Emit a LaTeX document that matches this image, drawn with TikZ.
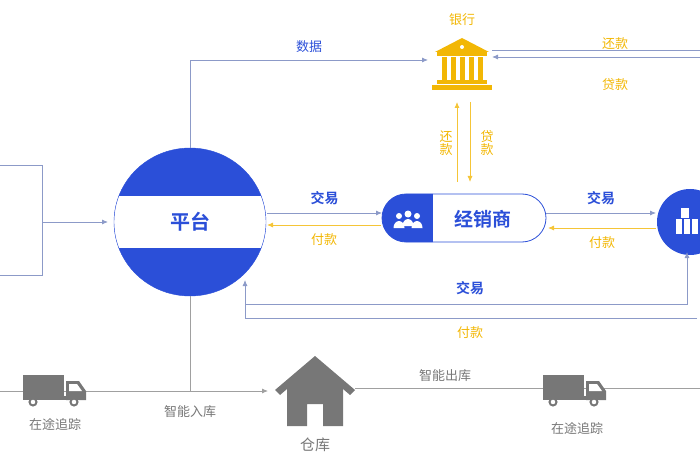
\documentclass[tikz,border=0pt]{standalone}
\usepackage{fontspec}
\setmainfont{Noto Sans CJK SC}[BoldFont={Noto Sans CJK SC Bold}]
\usetikzlibrary{arrows.meta,positioning}
\definecolor{pblue}{HTML}{2B4FD8}
\definecolor{pline}{HTML}{8C9AC8}
\definecolor{pyellow}{HTML}{F2B705}
\definecolor{pgray}{HTML}{777777}
\tikzset{
  flow/.style={pline,line width=0.8pt,-{Latex[length=6pt,width=5pt]}},
  pay/.style={pyellow!80,line width=0.8pt,-{Latex[length=6pt,width=5pt]}},
  ware/.style={pgray!70,line width=0.8pt},
  lblue/.style={text=pblue,font=\bfseries\fontsize{14}{14}\selectfont},
  lyellow/.style={text=pyellow,font=\fontsize{13}{13}\selectfont},
  lgray/.style={text=pgray,font=\fontsize{13}{13}\selectfont},
}
\begin{document}
\begin{tikzpicture}[x=1pt,y=-1pt]
  \useasboundingbox (0,0) rectangle (700,470);

  % platform
  \fill[pblue] (190,222) ellipse (76 and 74);
  \begin{scope}
    \clip (190,222) ellipse (76 and 74);
    \fill[white] (100,196) rectangle (280,248);
  \end{scope}
  \draw[pblue,thin] (190,222) ellipse (76 and 74);
  \node[lblue,font=\bfseries\fontsize{20}{20}\selectfont] (plat) at (190,222) {平台};
  \coordinate (platT) at (190,148);
  \coordinate (platB) at (190,296);

  % left box
  \draw[ware,pline] (0,165) -- (42,165) -- (42,275) -- (0,275);
  \coordinate (boxR) at (42,222);
  \draw[flow] (boxR) -- (108,222);

  % bank
  \begin{scope}[pyellow,shift={(462,62)}]
    \fill (-27,-10) -- (0,-24) -- (27,-10) -- cycle;
    \fill (-25,-10) rectangle (25,-6);
    \foreach \cx in {-18,-9,0,9,18}
      \fill (\cx-2.5,-5) rectangle (\cx+2.5,18);
    \fill (-25,18) rectangle (25,22);
    \fill (-30,23) rectangle (30,28);
    \fill[white] (0,-15) circle (2);
  \end{scope}
  \coordinate (bankL) at (428,60);
  \coordinate (bankR) at (492,57);
  \node[lyellow] (bankT) at (462,20) {银行};

  % data line
  \draw[flow] (platT) |- node[pos=0.75,above=4pt,lblue,font=\fontsize{13}{13}\selectfont]{数据} (bankL);
  \draw[pline,line width=0.8pt] (700,50) -- (492,50);
  \draw[flow] (700,57) -- (bankR);
  \node[lyellow] at (615,44) {还款};
  \node[lyellow] at (615,85) {贷款};

  % dealer
  \begin{scope}
    \clip[rounded corners=24pt] (382,194) rectangle (546,242);
    \fill[pblue] (380,190) rectangle (433,246);
  \end{scope}
  \draw[pblue,line width=0.8pt,rounded corners=24pt] (382,194) rectangle (546,242);
  % people icon
  \begin{scope}[white,shift={(408,220)}]
    \foreach \px/\py/\r in {-9/-4/3, 9/-4/3, 0/-6/3.5} {
      \fill (\px,\py) circle (\r);
      \fill (\px-5.5,\py+12) arc (180:360:5.5 and 7) -- cycle;
    }
  \end{scope}
  \node[lblue,font=\bfseries\fontsize{19}{19}\selectfont] (deal) at (483,219) {经销商};
  \coordinate (dealL) at (382,213);
  \coordinate (dealR) at (546,213);

  % bank <-> dealer
  \draw[pay] (457,182) -- (457,102);
  \draw[pay] (470,102) -- (470,182);
  \node[lyellow,align=center] at (446,143) {还\\款};
  \node[lyellow,align=center] at (487,143) {贷\\款};

  % right node
  \fill[pblue] (690,222) circle (33);
  \begin{scope}[white]
    \fill (681,208) rectangle (689,218);
    \foreach \bx in {676,684,692}
      \fill (\bx,219) rectangle (\bx+6,234);
  \end{scope}
  \coordinate (manL) at (656,213);
  \coordinate (manP) at (656,228);

  % platform <-> dealer
  \draw[flow] (267,213) -- node[above=4pt,lblue]{交易} (dealL);
  \draw[pay] (381,225) -- node[below=5pt,lyellow]{付款} (267,225);
  % dealer <-> right node
  \draw[flow] (dealR) -- node[above=4pt,lblue]{交易} (manL);
  \draw[pay] (manP) -- node[below=5pt,lyellow]{付款} (548,228);

  % loop under dealer
  \draw[flow] (245,304) -- (687,304) -- (687,252);
  \draw[flow] (697,318) -- (245,318) -- (245,280);
  \node[lblue] at (470,288) {交易};
  \node[lyellow] at (470,333) {付款};

  % bottom row
  \draw[ware,-{Latex[length=6pt,width=5pt]}] (0,391) -- (268,391);
  \draw[ware] (platB) -- (190,391);
  \draw[ware] (355,388) -- (700,388);
  \foreach \tx/\ty in {55/392, 575/392} {
    \begin{scope}[pgray,shift={(\tx,\ty)}]
      \fill (-32,-17) rectangle (9,4);
      \fill (11,-11) -- (24,-11) -- (31,-1) -- (31,8) -- (11,8) -- cycle;
      \fill (-32,4) rectangle (11,8);
      \fill[white] (14,-8) -- (22,-8) -- (27,-1) -- (14,-1) -- cycle;
      \foreach \wx in {-22,19}
        \filldraw[fill=white,draw=pgray,line width=2pt] (\wx,10) circle (3.5);
    \end{scope}
  }
  \node[lgray] (trk1) at (55,424) {在途追踪};
  \node[lgray] (trk2) at (577,428) {在途追踪};
  \node[lgray] at (190,412) {智能入库};
  \node[lgray] at (445,376) {智能出库};

  % warehouse
  \begin{scope}[pgray,shift={(315,400)}]
    \fill (-40,-10) -- (0,-44) -- (40,-10) -- (35,-5) -- (0,-35) -- (-35,-5) -- cycle;
    \fill (-28,-15) -- (0,-38) -- (28,-15) -- (28,26) -- (8,26) -- (8,4) -- (-8,4) -- (-8,26) -- (-28,26) -- cycle;
  \end{scope}
  \node[lgray,font=\fontsize{15}{15}\selectfont] (store) at (315,445) {仓库};
\end{tikzpicture}
\end{document}
